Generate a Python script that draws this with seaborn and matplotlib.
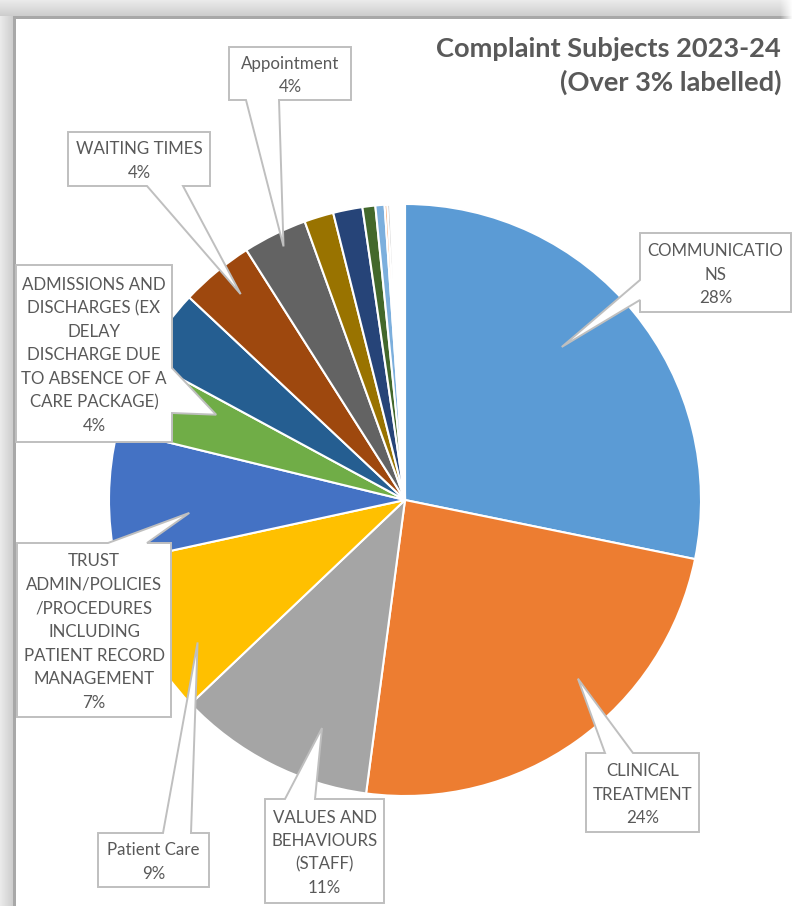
import numpy as np
import matplotlib
matplotlib.use("Agg")
import matplotlib.pyplot as plt
from matplotlib.patches import Polygon
import seaborn as sns

# ---- data -------------------------------------------------------------
subjects = [
    "COMMUNICATIONS",
    "CLINICAL TREATMENT",
    "VALUES AND BEHAVIOURS (STAFF)",
    "Patient Care",
    "TRUST ADMIN/POLICIES/PROCEDURES INCLUDING PATIENT RECORD MANAGEMENT",
    "ADMISSIONS AND DISCHARGES (EX DELAY DISCHARGE DUE TO ABSENCE OF A CARE PACKAGE)",
    "Other subject A",
    "WAITING TIMES",
    "Appointment",
    "Other subject B",
    "Other subject C",
    "Other subject D",
    "Other subject E",
    "Other subject F",
    "Other subject G",
] + [f"Minor subject {i}" for i in range(1, 11)]

shares = [28.2, 23.9, 10.8, 8.7, 7.2, 4.1, 4.1, 4.0, 3.5, 1.6, 1.6, 0.7, 0.5,
          0.15, 0.15] + [0.08] * 10

slice_colors = ["#5B9BD5", "#ED7D31", "#A5A5A5", "#FFC000", "#4472C4", "#70AD47",
                "#255E91", "#9E480E", "#636363", "#997300", "#264478", "#43682B",
                "#7CAFDD", "#F1975A", "#B7B7B7", "#FFCD33", "#698ED0", "#8CC168",
                "#327DC2", "#D26012", "#848484", "#CC9A00", "#335AA1", "#5A8A39",
                "#A5C6E8"]

# callout text lines for the labelled subjects (index -> wrapped lines)
callout_lines = {
    0: ["COMMUNICATIO", "NS"],
    1: ["CLINICAL", "TREATMENT"],
    2: ["VALUES AND", "BEHAVIOURS", "(STAFF)"],
    3: ["Patient Care"],
    4: ["TRUST", "ADMIN/POLICIES", "/PROCEDURES", "INCLUDING", "PATIENT RECORD", "MANAGEMENT"],
    5: ["ADMISSIONS AND", "DISCHARGES (EX", "DELAY", "DISCHARGE DUE", "TO ABSENCE OF A", "CARE PACKAGE)"],
    7: ["WAITING TIMES"],
    8: ["Appointment"],
}

# ---- layout (pixels) ---------------------------------------------------
W, H, DPI = 792, 906, 100
CX, CY, R = 405, 500, 296

# box (x0, y0, x1, y1), pointer side, pointer base span,
# position of the pointer tip inside the wedge (angular fraction, radial fraction)
callout_layout = {
    0: dict(box=(640, 233, 791, 312), side="left", base=(280, 300), tip=(0.55, 0.74)),
    1: dict(box=(586, 753, 699, 832), side="top", base=(605, 633), tip=(0.60, 0.84)),
    2: dict(box=(265, 799, 384, 903), side="top", base=(285, 315), tip=(0.68, 0.82)),
    3: dict(box=(98, 833, 209, 887), side="top", base=(163, 191), tip=(0.71, 0.85)),
    4: dict(box=(17, 543, 171, 717), side="top", base=(108, 147), tip=(0.66, 0.73)),
    5: dict(box=(16, 265, 172, 442), side="right", base=(368, 413), tip=(0.28, 0.70)),
    7: dict(box=(68, 132, 210, 186), side="bottom", base=(147, 183), tip=(0.43, 0.89)),
    8: dict(box=(229, 47, 351, 100), side="bottom", base=(246, 279), tip=(0.46, 0.95)),
}

TEXT_COLOR = "#595959"
LINE_COLOR = "#BFBFBF"
PITCH = 23.6

sns.set_theme(style="white")
plt.rcParams["font.family"] = ["Lato", "DejaVu Sans"]

fig = plt.figure(figsize=(W / DPI, H / DPI), dpi=DPI)
fig.patch.set_facecolor("white")

# window frame shading along the top and left
bg = fig.add_axes([0, 0, 1, 1])
yy, xx = np.mgrid[0:H, 0:W]
top_band = np.clip(1 - yy / 16.0, 0, 1)
left_band = np.clip(1 - xx / 13.0, 0, 1)
shade = np.ones((H, W))
shade = np.where(yy < 16, 0.80 + 0.12 * top_band, shade)
shade = np.where((xx < 13) & (yy >= 16), np.minimum(shade, 0.80 + 0.12 * left_band), shade)
shade = np.where(((yy >= 16) & (yy < 19) & (xx >= 13)) | ((xx >= 13) & (xx < 16) & (yy >= 16)), 0.66, shade)
fade_right = np.clip((W - xx) / 12.0, 0, 1)
shade = np.where(yy < 19, 1 - (1 - shade) * fade_right, shade)
img = np.dstack([shade] * 3)
bg.imshow(img, extent=(0, W, H, 0), aspect="auto", interpolation="nearest")
bg.set_xlim(0, W)
bg.set_ylim(H, 0)
bg.axis("off")

# pie
pad = 1.02
ax = fig.add_axes([(CX - R * pad) / W, (H - CY - R * pad) / H, 2 * R * pad / W, 2 * R * pad / H])
wedges, _ = ax.pie(shares, colors=slice_colors[:len(shares)], startangle=90,
                   counterclock=False, radius=1,
                   wedgeprops=dict(edgecolor="white", linewidth=1.5))
ax.set_xlim(-pad, pad)
ax.set_ylim(-pad, pad)
ax.axis("off")

# callouts drawn in pixel space on top
ov = fig.add_axes([0, 0, 1, 1])
ov.set_zorder(5)
ov.patch.set_alpha(0)
ov.set_xlim(0, W)
ov.set_ylim(H, 0)
ov.axis("off")

total = sum(shares)


def callout_shape(box, side, base, tip):
    x0, y0, x1, y1 = box
    b0, b1 = base
    if side == "top":
        pts = [(x0, y0), (b0, y0), tip, (b1, y0), (x1, y0), (x1, y1), (x0, y1)]
    elif side == "right":
        pts = [(x0, y0), (x1, y0), (x1, b0), tip, (x1, b1), (x1, y1), (x0, y1)]
    elif side == "bottom":
        pts = [(x0, y0), (x1, y0), (x1, y1), (b1, y1), tip, (b0, y1), (x0, y1)]
    else:
        pts = [(x0, y0), (x1, y0), (x1, y1), (x0, y1), (x0, b1), tip, (x0, b0)]
    return pts


for idx, lines in callout_lines.items():
    lay = callout_layout[idx]
    w = wedges[idx]
    fa, fr = lay["tip"]
    theta = np.deg2rad(w.theta1 + fa * (w.theta2 - w.theta1))
    tip = (CX + fr * R * np.cos(theta), CY - fr * R * np.sin(theta))
    poly = Polygon(callout_shape(lay["box"], lay["side"], lay["base"], tip),
                   closed=True, facecolor="white", edgecolor=LINE_COLOR,
                   linewidth=1.4, joinstyle="miter")
    ov.add_patch(poly)
    pct = f"{shares[idx] / total * 100:.0f}%"
    all_lines = lines + [pct]
    x0, y0, x1, y1 = lay["box"]
    xc = (x0 + x1) / 2
    yc = (y0 + y1) / 2 + 2
    first = yc - PITCH * (len(all_lines) - 1) / 2
    for k, txt in enumerate(all_lines):
        ov.text(xc, first + k * PITCH, txt, ha="center", va="center",
                fontsize=12.2, color=TEXT_COLOR)

# title
ov.text(781, 49, "Complaint Subjects 2023-24", ha="right", va="center",
        fontsize=19.6, fontweight="bold", color=TEXT_COLOR)
ov.text(781, 82, "(Over 3% labelled)", ha="right", va="center",
        fontsize=19.6, fontweight="bold", color=TEXT_COLOR)

fig.savefig("out.png", dpi=DPI)
